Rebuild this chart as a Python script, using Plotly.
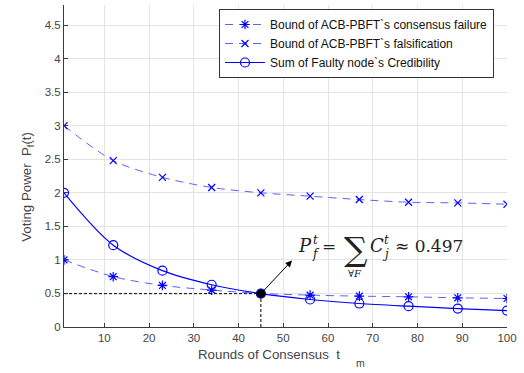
import plotly.graph_objects as go

rounds = [1, 12, 23, 34, 45, 56, 67, 78, 89, 100]
bound_failure = [1.0, 0.75, 0.62, 0.55, 0.50, 0.475, 0.46, 0.45, 0.435, 0.425]
bound_falsification = [3.0, 2.48, 2.23, 2.08, 2.0, 1.95, 1.90, 1.86, 1.85, 1.83]
faulty_credibility = [2.0, 1.22, 0.84, 0.63, 0.497, 0.41, 0.35, 0.31, 0.275, 0.245]
cross_x = 45
cross_y = 0.497
x_ticks = [10, 20, 30, 40, 50, 60, 70, 80, 90, 100]
y_ticks = [0, 0.5, 1, 1.5, 2, 2.5, 3, 3.5, 4, 4.5]

names = ["Bound of ACB-PBFT`s consensus failure",
         "Bound of ACB-PBFT`s falsification",
         "Sum of Faulty node`s Credibility"]

BLUE = "rgb(0,0,255)"
LBLUE = "rgb(95,95,255)"

fig = go.Figure()
fig.add_trace(go.Scatter(
    x=rounds, y=bound_failure, name=names[0], mode="lines+markers",
    line=dict(color=LBLUE, width=1, dash="8px,6px", shape="spline", smoothing=0.8),
    marker=dict(symbol="asterisk-open", size=8, color=BLUE, line=dict(color=BLUE, width=1.2))))
fig.add_trace(go.Scatter(
    x=rounds, y=bound_falsification, name=names[1], mode="lines+markers",
    line=dict(color=LBLUE, width=1, dash="8px,6px", shape="spline", smoothing=0.8),
    marker=dict(symbol="x-thin-open", size=7, color=BLUE, line=dict(color=BLUE, width=1.2))))
fig.add_trace(go.Scatter(
    x=rounds, y=faulty_credibility, name=names[2], mode="lines+markers",
    line=dict(color=BLUE, width=1.2, shape="spline", smoothing=0.9),
    marker=dict(symbol="circle-open", size=9, color=BLUE, line=dict(color=BLUE, width=1.2))))

# guide lines to the crossing point
fig.add_trace(go.Scatter(x=[1, cross_x], y=[cross_y, cross_y], mode="lines",
                         line=dict(color="black", width=1, dash="3px,2px"), showlegend=False, hoverinfo="skip"))
fig.add_trace(go.Scatter(x=[cross_x, cross_x], y=[0, cross_y], mode="lines",
                         line=dict(color="black", width=1, dash="3px,2px"), showlegend=False, hoverinfo="skip"))
fig.add_trace(go.Scatter(x=[cross_x], y=[cross_y], mode="markers",
                         marker=dict(color="black", size=9), showlegend=False, hoverinfo="skip"))

# pixel helpers (plot area: left 64, right 507, y0 at 326.5, 67 px per unit)
def dx(px):
    return 1 + (px - 64) / 4.475

def dy(py):
    return (326.5 - py) / 67.0

fig.add_annotation(x=dx(292), y=dy(260), ax=cross_x, ay=cross_y, axref="x", ayref="y",
                   xref="x", yref="y", text="", showarrow=True, arrowhead=2, arrowsize=1.3,
                   arrowwidth=1, arrowcolor="black")

SERIF = "DejaVu Serif"
def txt(px, py, s, size, anchor="center"):
    fig.add_annotation(x=dx(px), y=dy(py), xref="x", yref="y", text=s, showarrow=False,
                       font=dict(family=SERIF, size=size, color="#222"), xanchor=anchor, yanchor="middle")

txt(305, 245, "<i>P</i>", 18)
txt(316, 240, "<i>t</i>", 12)
txt(316, 254, "<i>f</i>", 12)
txt(329, 246, "=", 17)
txt(356, 249, "∑", 33)
txt(355, 273, "∀<i>F</i>", 10)
txt(377, 245, "<i>C</i>", 18)
txt(387, 240, "<i>t</i>", 12)
txt(386, 254, "<i>j</i>", 12)
txt(393, 246, "≈ 0.497", 17, anchor="left")

# paper coords relative to plot domain: convert pixel to domain fraction
def dom_x(px):
    return (px - 64) / 443.0

def dom_y(py):
    return (326.5 - py) / 321.5

fig.add_annotation(x=dom_x(17), y=dom_y(187), xref="paper", yref="paper",
                   text="Voting Power  P<sub>f</sub>(t)", textangle=-90, showarrow=False,
                   font=dict(family="Liberation Sans", size=13.3, color="#444"))
fig.add_annotation(x=dom_x(269), y=dom_y(363), xref="paper", yref="paper",
                   text="Rounds of Consensus  t", showarrow=False,
                   font=dict(family="Liberation Sans", size=13.3, color="#444"))
fig.add_annotation(x=dom_x(367), y=dom_y(370), xref="paper", yref="paper",
                   text="m", showarrow=False,
                   font=dict(family="Liberation Sans", size=10.5, color="#444"))

axis_common = dict(showgrid=True, gridcolor="#e3e3e3", gridwidth=1, zeroline=False,
                   showline=True, linecolor="#3a3a3a", linewidth=1, ticks="inside", ticklen=4,
                   tickcolor="#3a3a3a", tickfont=dict(family="Liberation Sans", size=11.5, color="#444"))

fig.update_xaxes(range=[1, 100], tickvals=x_ticks, ticktext=[str(v) for v in x_ticks], **axis_common)
fig.update_yaxes(range=[0, 4.8], tickvals=y_ticks, ticktext=[f"{v:g}" for v in y_ticks], **axis_common)

fig.update_layout(
    width=524, height=373,
    margin=dict(l=64, r=17, t=5, b=46),
    plot_bgcolor="white", paper_bgcolor="white",
    legend=dict(x=dom_x(219), y=dom_y(9), xanchor="left", yanchor="top",
                bgcolor="white", bordercolor="#333", borderwidth=1,
                font=dict(family="Liberation Sans", size=12, color="#111"),
                itemwidth=40, tracegroupgap=0),
    showlegend=True,
)

fig.write_html("out.html")
